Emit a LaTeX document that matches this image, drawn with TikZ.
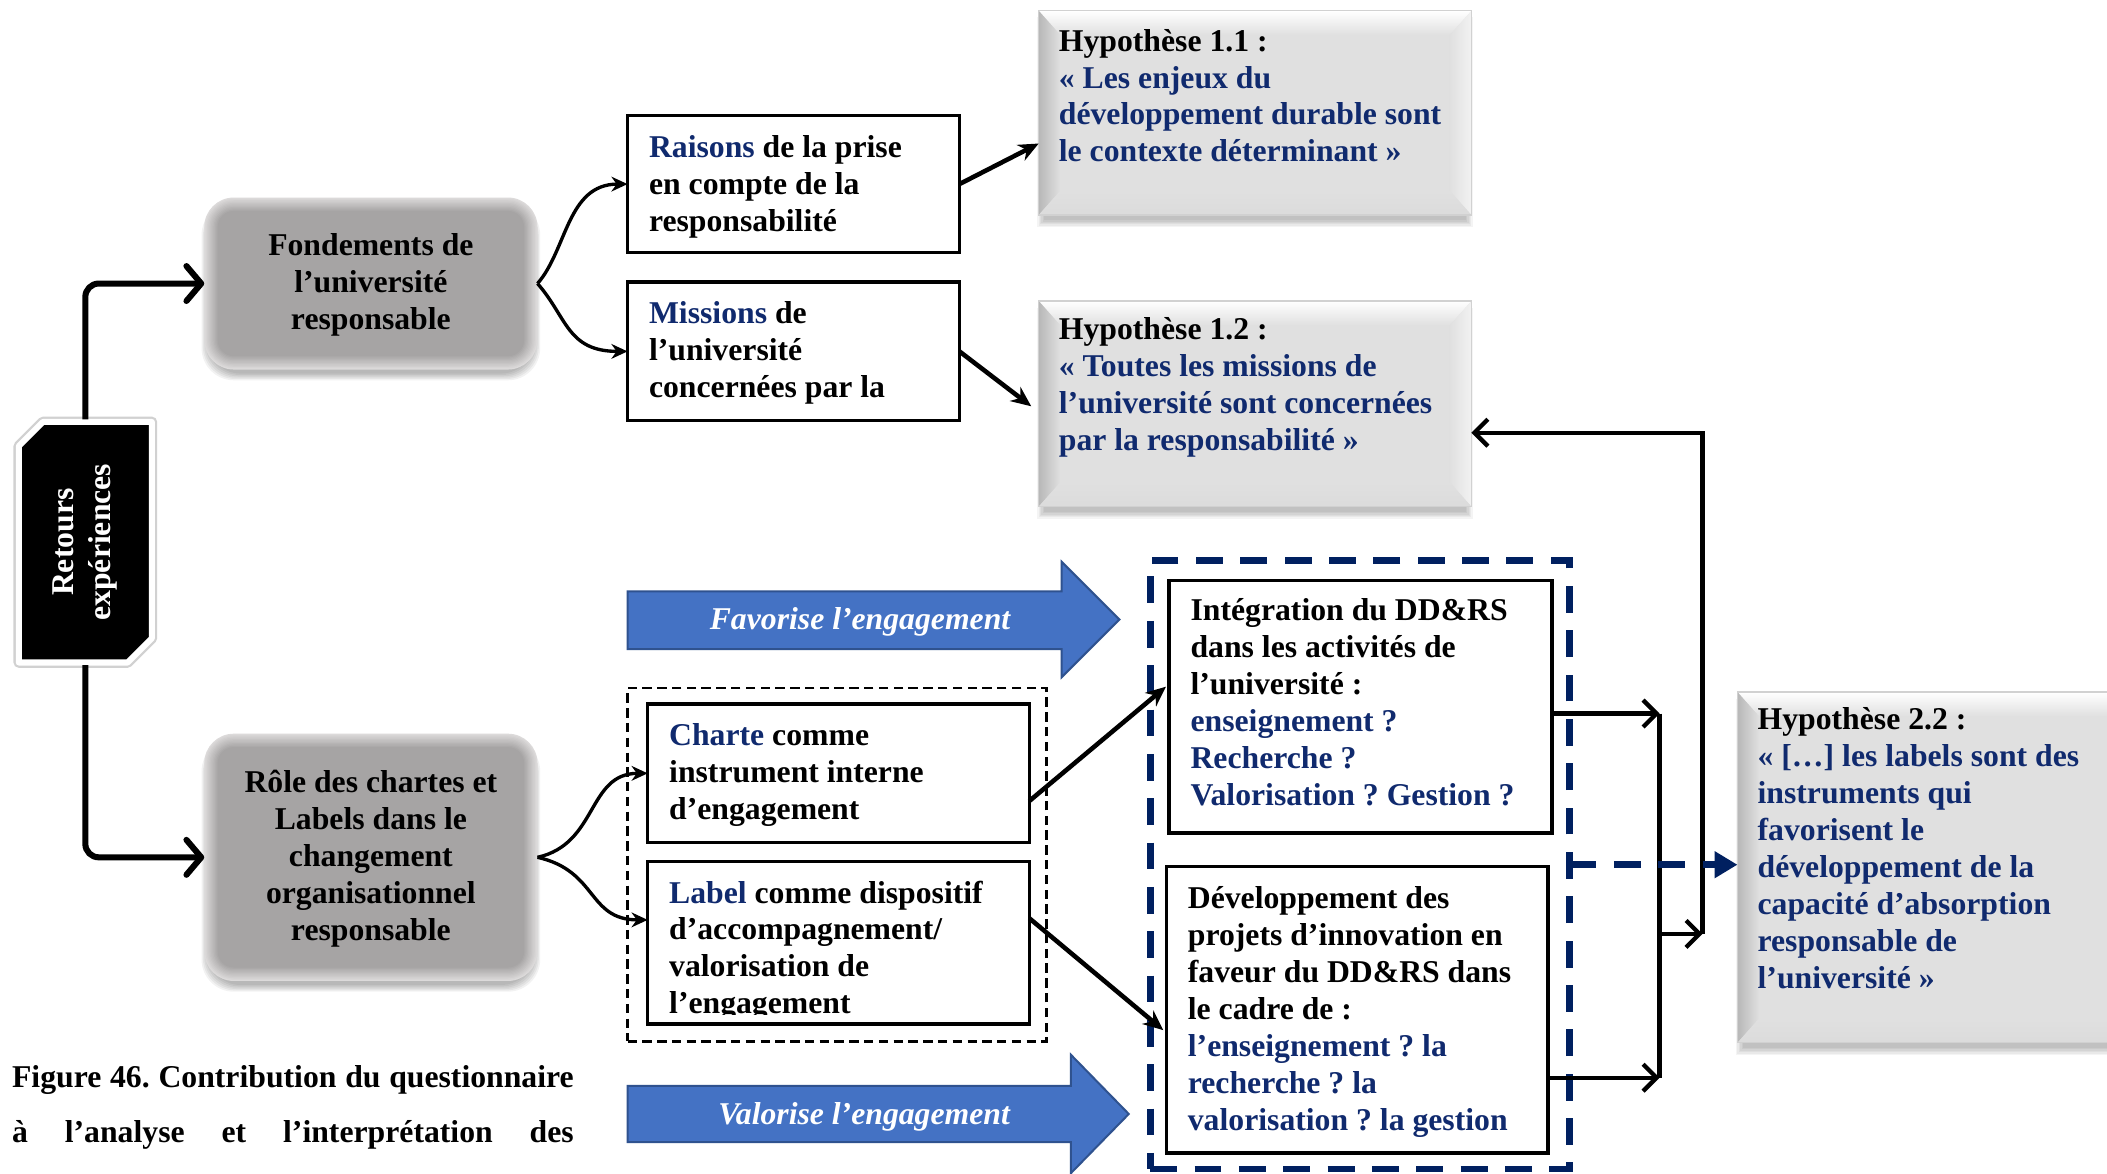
\documentclass[tikz,border=0pt]{standalone}
\usepackage{fontspec}
\setmainfont{Liberation Serif}
\usetikzlibrary{arrows.meta,calc}
\frenchspacing
\definecolor{navy}{RGB}{0,32,96}
\definecolor{hblue}{RGB}{16,42,110}
\definecolor{arrfill}{RGB}{68,114,196}
\definecolor{arrdraw}{RGB}{47,82,143}
\definecolor{softin}{RGB}{166,164,164}
\definecolor{softout}{RGB}{220,218,218}
\definecolor{hcenter}{RGB}{224,224,224}
\newcommand{\blu}[1]{\textcolor{hblue}{#1}}
\newcommand{\fst}{\rule{0pt}{17pt}}
\newcommand{\softbox}[1]{%
  \foreach \sk in {0,...,5}{%
    \fill[black, opacity=0.05, rounded corners=24pt]
      ([shift={(3-\sk,9-\sk)}]#1.north west) rectangle ([shift={(\sk-3,3+\sk)}]#1.south east);
  }%
  \foreach \ik in {0,...,10}{%
    \pgfmathtruncatemacro\pp{\ik*10}%
    \pgfmathsetmacro\rr{22-\ik}%
    \fill[softin!\pp!softout, rounded corners=\rr pt]
      ([shift={(\ik,\ik)}]#1.north west) rectangle ([shift={(-\ik,-\ik)}]#1.south east);
  }%
}
\newcommand{\bevelbox}[1]{%
  \foreach \sk in {0,...,5}{%
    \fill[black, opacity=0.045] ([shift={(4-\sk,10-\sk)}]#1.north west) rectangle ([shift={(\sk-4,4+\sk)}]#1.south east);
  }%
  \coordinate (#1-a) at (#1.north west);
  \coordinate (#1-b) at (#1.north east);
  \coordinate (#1-c) at (#1.south east);
  \coordinate (#1-d) at (#1.south west);
  \coordinate (#1-ai) at ([shift={(16,18)}]#1.north west);
  \coordinate (#1-bi) at ([shift={(-16,18)}]#1.north east);
  \coordinate (#1-ci) at ([shift={(-16,-18)}]#1.south east);
  \coordinate (#1-di) at ([shift={(16,-18)}]#1.south west);
  \fill[hcenter] (#1-a) rectangle (#1-c);
  \shade[top color=white, bottom color=hcenter] (#1-a) -- (#1-b) -- (#1-bi) -- (#1-ai) -- cycle;
  \shade[left color=black!28, right color=hcenter] (#1-a) -- (#1-ai) -- (#1-di) -- (#1-d) -- cycle;
  \shade[left color=hcenter, right color=black!5] (#1-b) -- (#1-bi) -- (#1-ci) -- (#1-c) -- cycle;
  \shade[top color=hcenter, bottom color=black!14] (#1-d) -- (#1-di) -- (#1-ci) -- (#1-c) -- cycle;
  \draw[black!18, line width=1pt] (#1-a) rectangle (#1-c);
}
\begin{document}
\begin{tikzpicture}[x=1pt,y=-1pt,
  every node/.style={font=\fontsize{23.6}{27.5}\selectfont\bfseries, inner sep=0pt, outer sep=0pt},
  bx/.style={draw=black, line width=2.6pt, rectangle, anchor=north west},
  place/.style={rectangle, anchor=north west},
  txt/.style={anchor=north west, align=left},
  lbl/.style={text=white, font=\fontsize{23.6}{27.5}\selectfont\bfseries\itshape},
  conn/.style={line width=2.5pt, -{Stealth[length=12pt,width=11pt]}},
  bigconn/.style={line width=3.4pt, -{Stealth[length=15pt,width=13pt]}},
  thk/.style={line width=4.5pt, line join=round, rounded corners=10pt, -{Straight Barb[length=11pt,width=26pt,round]}},
  rconn/.style={line width=3.2pt, -{Straight Barb[length=10pt,width=20pt]}},
  navyconn/.style={draw=navy, line width=5pt, dash pattern=on 20pt off 13pt, -{Triangle[length=17pt,width=19pt,fill=navy]}},
  blockarrow/.style={fill=arrfill, draw=arrdraw, line width=1.5pt},
]
\useasboundingbox (0,0) rectangle (1568,873);
\fill[white] (0,0) rectangle (1568,873);

% ---- Retours expériences
\node[place, minimum width=103, minimum height=183] (retours) at (12,312) {};
\draw[black!18, line width=8pt, line join=round]
  ([shift={(2,20)}]retours.north west) -- ([shift={(20,2)}]retours.north west) -- ([shift={(-2,2)}]retours.north east)
  -- ([shift={(-2,-20)}]retours.south east) -- ([shift={(-20,-2)}]retours.south east) -- ([shift={(2,-2)}]retours.south west) -- cycle;
\filldraw[fill=black, draw=white, line width=4.5pt, line join=round]
  ([shift={(2,20)}]retours.north west) -- ([shift={(20,2)}]retours.north west) -- ([shift={(-2,2)}]retours.north east)
  -- ([shift={(-2,-20)}]retours.south east) -- ([shift={(-20,-2)}]retours.south east) -- ([shift={(2,-2)}]retours.south west) -- cycle;
\node[text=white, rotate=90, align=center] (retoursT) at (retours.center) {Retours\\expériences};

% ---- grey rounded boxes
\node[place, minimum width=248, minimum height=128] (fond) at (152,147) {};
\node[place, minimum width=248, minimum height=184] (role) at (152,546) {};
\softbox{fond}
\softbox{role}
\node[align=center] (fondT) at ([yshift=-1]fond.center) {Fondements de\\l’université\\responsable};
\node[align=center] (roleT) at ([yshift=-1]role.center) {Rôle des chartes et\\Labels dans le\\changement\\organisationnel\\responsable};

% ---- upper boxes
\node[bx, minimum width=247, minimum height=102] (raisons) at (467,86) {};
\node[txt] (raisonsT) at (483,100) {\fst\blu{Raisons} de la prise\\en compte de la\\responsabilité};
\node[bx, minimum width=247, minimum height=103] (missions) at (467,210) {};
\node[txt] (missionsT) at (483,224) {\fst\blu{Missions} de\\l’université\\concernées par la};

% ---- hypotheses
\node[place, minimum width=322, minimum height=152] (hypA) at (773,8) {};
\bevelbox{hypA}
\node[txt] (hypAT) at (788,21) {\fst Hypothèse 1.1 :\\\blu{« Les enjeux du}\\\blu{développement durable sont}\\\blu{le contexte déterminant »}};
\node[place, minimum width=322, minimum height=153] (hypB) at (773,224) {};
\bevelbox{hypB}
\node[txt] (hypBT) at (788,236) {\fst Hypothèse 1.2 :\\\blu{« Toutes les missions de}\\\blu{l’université sont concernées}\\\blu{par la responsabilité »}};
\node[place, minimum width=292, minimum height=261] (hypC) at (1293,515) {};
\bevelbox{hypC}
\node[txt] (hypCT) at (1308,526) {\fst Hypothèse 2.2 :\\\blu{« […] les labels sont des}\\\blu{instruments qui}\\\blu{favorisent le}\\\blu{développement de la}\\\blu{capacité d’absorption}\\\blu{responsable de}\\\blu{l’université »}};

% ---- block arrows
\draw[blockarrow] (467,440) -- (790,440) -- (790,418) -- (833,461) -- (790,504) -- (790,483) -- (467,483) -- cycle;
\node[lbl] (fav) at (640,463) {Favorise l’engagement};
\draw[blockarrow] (467,808) -- (797,808) -- (797,785) -- (840,829) -- (797,873) -- (797,850) -- (467,850) -- cycle;
\node[lbl] (val) at (643,831) {Valorise l’engagement};

% ---- charte / label group
\node[place, draw=black, line width=2pt, dash pattern=on 7pt off 4pt, minimum width=312, minimum height=263] (dbox) at (467,512) {};
\node[bx, minimum width=284, minimum height=103] (charte) at (482,524) {};
\node[txt] (charteT) at (498,538) {\fst\blu{Charte} comme\\instrument interne\\d’engagement};
\node[bx, minimum width=284, minimum height=121] (label) at (482,641) {};
\begin{scope}
\clip (482,641) rectangle (766,755);
\node[txt] (labelT) at (498,655) {\fst\blu{Label} comme dispositif\\d’accompagnement/\\valorisation de\\l’engagement};
\end{scope}

% ---- navy group
\node[place, draw=navy, line width=5pt, dash pattern=on 20pt off 13pt, minimum width=312, minimum height=453] (nbox) at (856,417) {};
\node[bx, minimum width=285, minimum height=188] (integ) at (870,432) {};
\node[txt] (integT) at (886,445) {\fst Intégration du DD\&RS\\dans les activités de\\l’université :\\\blu{enseignement ?}\\\blu{Recherche ?}\\\blu{Valorisation ? Gestion ?}};
\node[bx, minimum width=284, minimum height=213] (devel) at (868,645) {};
\node[txt] (develT) at (884,659) {\fst Développement des\\projets d’innovation en\\faveur du DD\&RS dans\\le cadre de :\\\blu{l’enseignement ? la}\\\blu{recherche ? la}\\\blu{valorisation ? la gestion}};

% ---- connectors
\draw[thk] (retours.north) |- (fond.west);
\draw[thk] (retours.south) |- (role.west);
\draw[conn] (fond.east) .. controls +(22,-25) and +(-45,0) .. (raisons.west);
\draw[conn] (fond.east) .. controls +(22,25) and +(-45,0) .. (missions.west);
\draw[conn] (role.east) .. controls +(45,-10) and +(-45,0) .. (charte.west);
\draw[conn] (role.east) .. controls +(45,10) and +(-45,0) .. ($(label.north west)!0.36!(label.south west)$);
\draw[bigconn] (raisons.east) -- ($(hypA.north west)!0.65!(hypA.south west)$);
\draw[bigconn, shorten >=7pt] (missions.east) -- ($(hypB.north west)!0.54!(hypB.south west)$);
\draw[bigconn, shorten >=3pt] ($(charte.north east)!0.7!(charte.south east)$) -- ($(integ.north west)!0.41!(integ.south west)$);
\draw[bigconn, shorten >=3pt] ($(label.north east)!0.35!(label.south east)$) -- ($(devel.north west)!0.58!(devel.south west)$);

\coordinate (j1) at (1235,531);
\coordinate (j2) at (1235,802);
\coordinate (j3) at (1235,695);
\coordinate (j4) at (1267,695);
\coordinate (j5) at (1267,322);
\draw[rconn] (integ.east |- j1) -- (j1);
\draw[rconn] (devel.east |- j2) -- (j2);
\draw[line width=3.2pt] (j1) -- (j2);
\draw[rconn] (j3) -- (j4);
\draw[rconn] (j4) -- (j5) -- (hypB.east |- j5);
\draw[navyconn] (nbox.east) -- (nbox.east -| hypC.west);

% ---- caption
\node[anchor=base west] (cap1) at (9,809) {\makebox[418pt][s]{Figure 46. Contribution du questionnaire}};
\node[anchor=base west] (cap2) at (9,850) {\makebox[418pt][s]{à l’analyse et l’interprétation des}};
\end{tikzpicture}
\end{document}
